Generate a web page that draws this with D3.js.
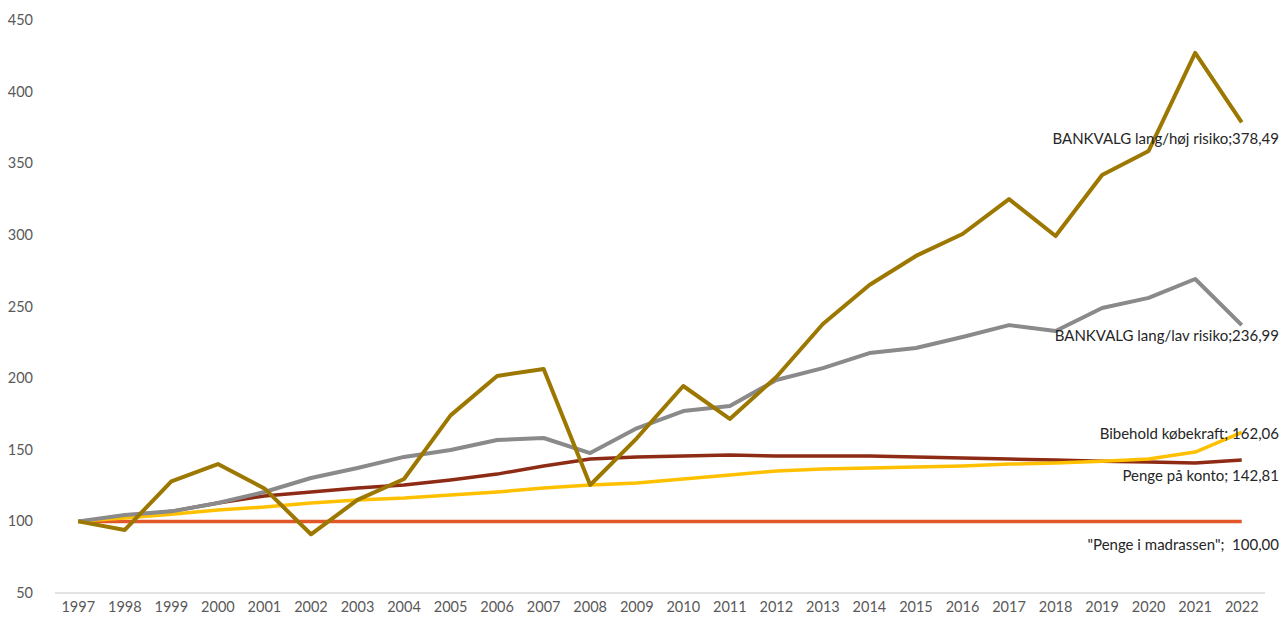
<!DOCTYPE html>
<html>
<head>
<meta charset="utf-8">
<script src="https://cdn.jsdelivr.net/npm/d3@7"></script>
<style>
  body { margin: 0; background: #fff; }
  svg text { font-family: Lato, "Open Sans", sans-serif; white-space: pre; }
</style>
</head>
<body>
<div id="chart"></div>
<script>
// --- data ---
const years = d3.range(1997, 2023).map(String);

const madrassen = [100,100,100,100,100,100,100,100,100,100,100,100,100,100,100,100,100,100,100,100,100,100,100,100,100,100];
const konto = [100,103,107,112.8,117.7,120.5,123.3,125.4,128.9,133,138.7,143.5,145,145.6,146.3,145.6,145.6,145.6,145,144.2,143.5,142.8,142,141.5,140.7,142.81];
const koebekraft = [100,102.4,105,108,110,112.8,115,116.3,118.4,120.5,123.3,125.4,126.8,129.6,132.4,135.2,136.6,137.3,138,138.7,140,140.7,142,143.5,148.4,162.06];
const lavRisiko = [100,104.5,107,112.8,120.5,130.3,137.3,145,149.8,156.8,158.2,147.7,165,177,180.5,198.7,207,217.5,221,228.7,237,232.9,249,256,269.2,236.99];
const hoejRisiko = [100,94,128,140,123,91,115,129.6,174,201.5,206.4,125.4,158,194.5,171.5,200.8,237.8,265,285.3,300.6,325,299.2,341.8,358.6,427,378.49];

const yTicks = [50, 100, 150, 200, 250, 300, 350, 400, 450];

// label text shown at the end of each line
const series = [
  { name: '"Penge i madrassen";  100,00', values: madrassen, color: "#E2572A", w: 3.5, dy: 23 },
  { name: "Penge på konto; 142,81", values: konto, color: "#8E2B14", w: 3.5, dy: 16 },
  { name: "Bibehold købekraft; 162,06", values: koebekraft, color: "#FFC000", w: 3.5, dy: 1 },
  { name: "BANKVALG lang/lav risiko;236,99", values: lavRisiko, color: "#8A8A8A", w: 4, dy: 11 },
  { name: "BANKVALG lang/høj risiko;378,49", values: hoejRisiko, color: "#9C7800", w: 4, dy: 16 }
];

const width = 1283, height = 620;
const margin = { left: 55, right: 18, top: 20, bottom: 27 };

const svg = d3.select("#chart").append("svg")
  .attr("width", width)
  .attr("height", height);

const x = d3.scaleBand()
  .domain(years)
  .range([margin.left, width - margin.right]);

const y = d3.scaleLinear()
  .domain([50, 450])
  .range([height - margin.bottom, margin.top]);

// x axis line
svg.append("line")
  .attr("x1", margin.left).attr("x2", width - margin.right)
  .attr("y1", y(50)).attr("y2", y(50))
  .attr("stroke", "#D9D9D9").attr("stroke-width", 1.5);

// y tick labels
svg.append("g").selectAll("text")
  .data(yTicks)
  .join("text")
  .attr("x", 33)
  .attr("y", d => y(d))
  .attr("dy", "0.35em")
  .attr("text-anchor", "end")
  .attr("font-size", 14.5)
  .attr("fill", "#595959")
  .text(d => d);

// x tick labels
svg.append("g").selectAll("text")
  .data(years)
  .join("text")
  .attr("x", d => x(d) + x.bandwidth() / 2)
  .attr("y", y(50) + 19)
  .attr("text-anchor", "middle")
  .attr("font-size", 14.5)
  .attr("fill", "#595959")
  .text(d => d);

const line = d3.line()
  .x((d, i) => x(years[i]) + x.bandwidth() / 2)
  .y(d => y(d));

svg.append("g").selectAll("path")
  .data(series)
  .join("path")
  .attr("fill", "none")
  .attr("stroke", d => d.color)
  .attr("stroke-width", d => d.w)
  .attr("stroke-linejoin", "round")
  .attr("d", d => line(d.values));

// end labels
svg.append("g").selectAll("text")
  .data(series)
  .join("text")
  .attr("x", 1279)
  .attr("y", d => y(d.values[d.values.length - 1]) + d.dy)
  .attr("dy", "0.35em")
  .attr("text-anchor", "end")
  .attr("font-size", 15)
  .attr("fill", "#262626")
  .text(d => d.name);
</script>
</body>
</html>
